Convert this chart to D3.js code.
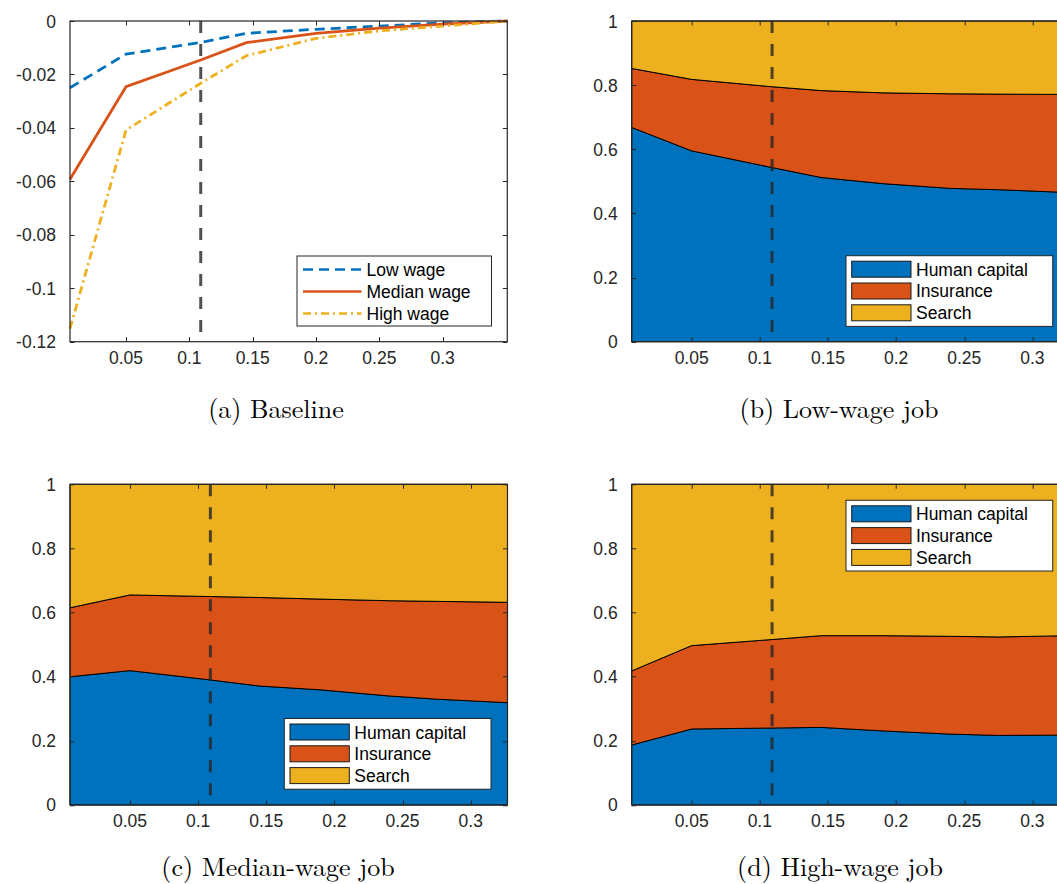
<!DOCTYPE html>
<html>
<head>
<meta charset="utf-8">
<script src="https://cdn.jsdelivr.net/npm/d3@7"></script>
<style>
html,body{margin:0;padding:0;background:#fff;overflow:hidden;}
svg{display:block;}
</style>
</head>
<body>
<svg id="chart" width="1057" height="884"></svg>
<script>
// ---------- DATA ----------
const xBase = [0.0058, 0.05, 0.109, 0.145, 0.2, 0.25, 0.3, 0.351];
const lowWage    = [-0.025, -0.0124, -0.008, -0.0046, -0.0031, -0.0019, -0.0007, 0];
const medianWage = [-0.0592, -0.0246, -0.0146, -0.0081, -0.0046, -0.0027, -0.0012, 0];
const highWage   = [-0.1151, -0.0408, -0.0233, -0.013, -0.0065, -0.0037, -0.0019, 0];
const seriesNames = ["Low wage", "Median wage", "High wage"];

const xShare = [0.006, 0.05, 0.109, 0.145, 0.19, 0.24, 0.275, 0.327];
// Low-wage job decomposition
const lowHC  = [0.668, 0.595, 0.543, 0.512, 0.493, 0.478, 0.474, 0.465];
const lowIns = [0.184, 0.223, 0.252, 0.271, 0.283, 0.295, 0.298, 0.306];
const lowSe  = [0.148, 0.182, 0.205, 0.217, 0.224, 0.227, 0.228, 0.229];
// Median-wage job decomposition
const medHC  = [0.400, 0.419, 0.390, 0.371, 0.359, 0.340, 0.330, 0.319];
const medIns = [0.215, 0.236, 0.260, 0.276, 0.283, 0.297, 0.305, 0.313];
const medSe  = [0.385, 0.345, 0.350, 0.353, 0.358, 0.363, 0.365, 0.368];
// High-wage job decomposition
const highHC  = [0.187, 0.237, 0.240, 0.242, 0.231, 0.221, 0.217, 0.218];
const highIns = [0.231, 0.260, 0.276, 0.286, 0.297, 0.305, 0.307, 0.310];
const highSe  = [0.582, 0.503, 0.484, 0.472, 0.472, 0.474, 0.476, 0.472];
const componentNames = ["Human capital", "Insurance", "Search"];

const xTicks = [0.05, 0.1, 0.15, 0.2, 0.25, 0.3];
const yTicksBase = [0, -0.02, -0.04, -0.06, -0.08, -0.1, -0.12];
const yTicksShare = [0, 0.2, 0.4, 0.6, 0.8, 1];
const refLine = 0.109;
const captions = ["(a) Baseline", "(b) Low-wage job", "(c) Median-wage job", "(d) High-wage job"];

// ---------- STYLE ----------
const colors = ["#0072BD", "#D95319", "#EDB120"];
const axisColor = "#262626";
const tickFont = "'Liberation Sans', Arial, Helvetica, sans-serif";
const capFont = "'Latin Modern Roman','CMU Serif','DejaVu Serif','Liberation Serif',serif";
const tickSize = 17.5;

const svg = d3.select("#chart");

function fmt(v){ if (v === 0) return "0"; return String(+v.toFixed(4)); }

function drawFrame(g, x, y, w, h, yTicks) {
  const tl = 4.5;
  const tk = g.append("g").attr("stroke", axisColor).attr("stroke-width", 1);
  xTicks.forEach(t => {
    const px = Math.round(x(t)) + 0.5;
    tk.append("line").attr("x1", px).attr("x2", px).attr("y1", h).attr("y2", h - tl);
    tk.append("line").attr("x1", px).attr("x2", px).attr("y1", 0).attr("y2", tl);
  });
  yTicks.forEach(t => {
    const py = Math.round(y(t)) + 0.5;
    tk.append("line").attr("x1", 0).attr("x2", tl).attr("y1", py).attr("y2", py);
    tk.append("line").attr("x1", w).attr("x2", w - tl).attr("y1", py).attr("y2", py);
  });
  g.append("rect").attr("x", 0).attr("y", 0).attr("width", w).attr("height", h)
    .attr("fill", "none").attr("stroke", axisColor).attr("stroke-width", 1.2);
  const lab = g.append("g").attr("font-family", tickFont).attr("font-size", tickSize).attr("fill", axisColor);
  xTicks.forEach(t => {
    lab.append("text").attr("x", x(t)).attr("y", h + 22).attr("text-anchor", "middle").text(fmt(t));
  });
  yTicks.forEach(t => {
    lab.append("text").attr("x", -14).attr("y", y(t) + 6.5).attr("text-anchor", "end").text(fmt(t));
  });
}

function refDashed(g, x, h) {
  g.append("line").attr("x1", x(refLine)).attr("x2", x(refLine)).attr("y1", 0).attr("y2", h)
    .attr("stroke", axisColor).attr("stroke-opacity", 0.8).attr("stroke-width", 3)
    .attr("stroke-dasharray", "12,11");
}

// ---------- PANEL A ----------
(function(){
  const L = 70, T = 21, W = 437.3, H = 320.7;
  const g = svg.append("g").attr("transform", `translate(${L},${T})`);
  const x = d3.scaleLinear().domain([0.0058, 0.351]).range([0, W]);
  const y = d3.scaleLinear().domain([-0.12, 0]).range([H, 0]);
  const series = [lowWage, medianWage, highWage];
  const dashes = ["10,6", null, "8,4,2,4"];
  const line = d3.line().x((d,i)=>x(xBase[i])).y(d=>y(d));
  refDashed(g, x, H);
  series.forEach((s, k) => {
    g.append("path").datum(s).attr("d", line).attr("fill", "none")
      .attr("stroke", colors[k]).attr("stroke-width", 2.8)
      .attr("stroke-dasharray", dashes[k]);
  });
  drawFrame(g, x, y, W, H, yTicksBase);
  const lg = svg.append("g").attr("transform", "translate(297,256)");
  lg.append("rect").attr("width", 194.5).attr("height", 70).attr("fill", "#fff")
    .attr("stroke", axisColor).attr("stroke-width", 1);
  seriesNames.forEach((n, k) => {
    const cy = 13.5 + k * 22;
    lg.append("line").attr("x1", 6).attr("x2", 64.5).attr("y1", cy).attr("y2", cy)
      .attr("stroke", colors[k]).attr("stroke-width", 2.6).attr("stroke-dasharray", dashes[k]);
    lg.append("text").attr("x", 69.5).attr("y", cy + 6.5).attr("font-family", tickFont)
      .attr("font-size", tickSize).attr("fill", "#000").text(n);
  });
})();

// ---------- STACKED PANELS ----------
function stackedPanel(L, T, comps, legendPos) {
  const W = 437.5, H = 320.7;
  const g = svg.append("g").attr("transform", `translate(${L},${T})`);
  const x = d3.scaleLinear().domain([0.006, 0.327]).range([0, W]);
  const y = d3.scaleLinear().domain([0, 1]).range([H, 0]);
  const rows = xShare.map((xv, i) => ({x: xv, a: comps[0][i], b: comps[1][i], c: comps[2][i]}));
  const stack = d3.stack().keys(["a", "b", "c"])(rows);
  const area = d3.area().x(d => x(d.data.x)).y0(d => y(d[0])).y1(d => y(d[1]));
  stack.forEach((s, k) => {
    g.append("path").datum(s).attr("d", area).attr("fill", colors[k])
      .attr("stroke", "#000").attr("stroke-width", 1);
  });
  refDashed(g, x, H);
  drawFrame(g, x, y, W, H, yTicksShare);
  const lg = svg.append("g").attr("transform", `translate(${legendPos[0]},${legendPos[1]})`);
  lg.append("rect").attr("width", 206.7).attr("height", 70.7).attr("fill", "#fff")
    .attr("stroke", axisColor).attr("stroke-width", 1);
  componentNames.forEach((n, k) => {
    const cy = 13.5 + k * 21.8;
    lg.append("rect").attr("x", 5.7).attr("y", cy - 8).attr("width", 59.3).attr("height", 16)
      .attr("fill", colors[k]).attr("stroke", "#1a1a1a").attr("stroke-width", 1);
    lg.append("text").attr("x", 70).attr("y", cy + 6.5).attr("font-family", tickFont)
      .attr("font-size", tickSize).attr("fill", "#000").text(n);
  });
}

stackedPanel(631.7, 21, [lowHC, lowIns, lowSe], [846, 255.7]);
stackedPanel(70, 484.3, [medHC, medIns, medSe], [284.3, 718.5]);
stackedPanel(631.7, 484.3, [highHC, highIns, highSe], [846, 500.3]);

// ---------- CAPTIONS ----------
const capPos = [[276, 418], [839, 418], [278, 876], [840, 876]];
captions.forEach((c, i) => {
  svg.append("text").attr("x", capPos[i][0]).attr("y", capPos[i][1]).attr("text-anchor", "middle")
    .attr("font-family", capFont).attr("font-size", 26).attr("fill", "#000").text(c);
});
</script>
</body>
</html>
